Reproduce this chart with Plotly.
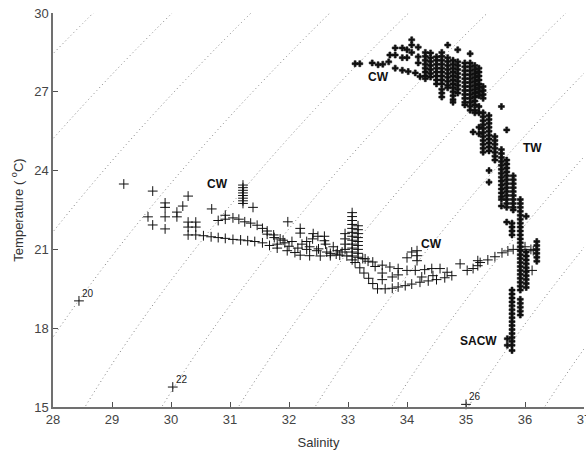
import numpy as np
import plotly.graph_objects as go

# ---------------- data ----------------
# Oceanic stations (bold crosses): columns of points at one salinity
ocean_col_sal = [34.31, 34.40, 34.50, 34.59, 34.69, 34.78, 34.86, 34.98, 35.07, 35.15,
                 35.22, 35.29, 35.39, 35.49, 35.60, 35.69, 35.80, 35.92, 35.78, 36.02, 36.20]
ocean_col_temp = [
    [28.50, 28.35, 28.20, 28.05, 27.90, 27.75, 27.60, 27.50],
    [28.48, 28.30, 28.15, 28.00, 27.85, 27.70, 27.56],
    [28.33, 28.20, 28.05, 27.90, 27.75, 27.60, 27.45, 27.30],
    [28.50, 28.35, 28.20, 28.05, 27.90, 27.75, 27.60, 27.45, 27.30, 27.10, 26.95, 26.80],
    [28.78, 28.30, 28.15, 28.00, 27.85, 27.70, 27.55, 27.40, 27.25, 27.15],
    [28.20, 28.05, 27.90, 27.75, 27.60, 27.45, 27.30, 27.15, 27.00, 26.85, 26.70, 26.60],
    [28.60, 28.14, 28.00, 27.85, 27.70, 27.55, 27.40, 27.25, 27.10, 26.95],
    [28.10, 27.95, 27.80, 27.65, 27.50, 27.35, 27.20, 27.05, 26.90, 26.75, 26.60, 26.50],
    [28.45, 28.10, 27.95, 27.80, 27.65, 27.50, 27.35, 27.20, 27.05, 26.90, 26.75, 26.60, 26.45, 26.30],
    [28.00, 27.85, 27.70, 27.55, 27.40, 27.25, 27.10, 26.95, 26.80, 26.65, 26.50, 26.30, 26.20],
    [27.90, 27.75, 27.60, 27.45, 27.30, 27.15, 27.00, 26.85, 26.44, 26.20, 25.65, 25.40],
    [27.20, 27.05, 26.90, 26.75, 26.20, 26.05, 25.90, 25.75, 25.60, 25.45, 25.30, 25.15, 25.00, 24.85, 24.70],
    [26.10, 25.95, 25.80, 25.65, 25.50, 25.35, 25.20, 25.05, 24.90, 24.75, 24.00, 23.56],
    [25.30, 25.15, 25.00, 24.85, 24.70, 24.55, 24.40],
    [26.44, 24.80, 24.65, 24.50, 24.35, 24.20, 24.05, 23.90, 23.75, 23.60, 23.45, 23.30, 23.15, 23.00, 22.90, 22.65],
    [25.55, 24.40, 24.25, 24.10, 23.95, 23.80, 23.65, 23.50, 23.35, 23.20, 23.05, 22.90, 22.75, 22.60, 22.04],
    [23.80, 23.65, 23.50, 23.35, 23.20, 23.05, 22.90, 22.75, 22.60, 22.50],
    [22.90, 22.75, 22.60, 22.45, 22.30, 22.15, 22.00, 21.85, 21.70, 21.55, 21.40, 21.25, 21.10, 20.95,
     20.80, 20.65, 20.50, 20.35, 20.20, 20.05, 19.90, 19.75, 19.60, 19.45, 19.10, 18.95, 18.80, 18.65, 18.50],
    [22.00, 21.85, 21.70, 21.55, 19.45, 19.30, 19.15, 19.00, 18.85, 18.70, 18.55, 18.40, 18.25, 18.10,
     17.95, 17.80, 17.65, 17.50, 17.35, 17.15],
    [22.26, 20.90, 20.75, 20.60, 20.45, 20.30, 20.15, 20.00, 19.85, 19.70, 19.55],
    [21.30, 21.15, 21.00, 20.85, 20.70, 20.55],
]
# Oceanic stations: single points
ocean_pt_sal = [33.12, 33.20, 33.41, 33.51, 33.59, 33.69, 33.80, 33.92, 34.02, 34.14, 34.22,
                33.71, 33.80, 33.80, 33.92, 33.92, 34.00, 34.00, 34.08, 34.08, 34.08, 34.19, 34.19, 34.19,
                35.12, 35.70, 35.70]
ocean_pt_temp = [28.07, 28.07, 28.10, 28.03, 28.05, 28.14, 27.90, 27.82, 27.77, 27.72, 27.58,
                 28.40, 28.67, 28.40, 28.67, 28.30, 28.60, 28.30, 28.98, 28.78, 28.50, 28.70, 28.33, 28.10,
                 25.47, 17.35, 17.60]

# Coastal stations (thin plus signs)
coast_sal = [
    29.20, 29.69, 29.90, 29.90, 30.29, 30.20, 30.10, 30.10, 29.61, 29.90, 29.69, 29.90, 30.29, 30.42, 30.29, 30.42, 30.69,
    31.22, 31.22, 31.22, 31.22, 31.22, 31.22, 31.22, 31.22, 31.39,
    30.80, 30.92, 30.92, 31.05, 31.15, 31.25, 31.35, 31.46, 31.55, 31.63, 31.74, 31.85, 31.93, 32.00, 32.15, 32.30, 32.47, 32.64, 32.80, 32.98,
    30.29, 30.42, 30.55, 30.68, 30.80, 30.92, 31.05, 31.18, 31.30, 31.42, 31.55, 31.67, 31.80, 31.97, 32.10, 32.19, 32.35, 32.53, 32.70, 32.86,
    31.98, 32.19, 32.19, 32.41, 32.49, 32.60, 31.80, 31.63, 31.75, 31.90, 32.05, 32.22, 32.35, 32.50, 32.62, 32.75, 32.82, 32.60, 32.40, 32.30, 32.70, 32.90,
    33.07, 33.07, 33.07, 33.07, 33.07, 33.07, 33.07, 33.07, 33.07, 33.07, 33.07, 33.07, 33.07,
    33.17, 33.17, 33.17, 33.17, 33.17, 33.17, 33.17, 33.17, 33.17,
    32.95, 32.95, 32.95, 32.95,
    33.12, 33.20, 33.27, 33.35, 33.42,
    33.46, 33.58, 33.58, 33.75, 33.85, 33.34, 33.25,
    33.50, 33.63, 33.75, 33.85, 33.97, 34.08, 34.22, 34.36, 34.50, 34.64, 34.76,
    33.29, 33.42, 33.58, 33.71, 33.85, 34.00, 34.14, 34.30, 34.42, 34.56, 34.68,
    34.25, 34.44,
    34.00, 34.08, 34.17, 34.17, 34.17,
    34.90, 35.02, 35.12, 35.20, 35.20, 35.24, 35.37, 35.49, 35.61, 35.71, 35.80, 35.92, 36.00, 36.10, 36.14, 36.12,
]
coast_temp = [
    23.49, 23.22, 22.77, 22.60, 23.03, 22.65, 22.42, 22.24, 22.24, 22.24, 21.93, 21.78, 22.04, 22.04, 21.85, 21.85, 22.54,
    23.45, 23.35, 23.25, 23.15, 23.05, 22.95, 22.85, 22.75, 22.60,
    22.10, 22.30, 22.15, 22.20, 22.15, 22.05, 22.00, 21.92, 21.80, 21.70, 21.55, 21.40, 21.25, 21.12, 21.05, 21.00, 20.95, 20.90, 20.82, 20.75,
    21.55, 21.55, 21.52, 21.48, 21.45, 21.42, 21.38, 21.36, 21.33, 21.30, 21.25, 21.15, 21.05, 20.95, 20.88, 20.78, 20.76, 20.75, 20.76, 20.78,
    22.05, 21.80, 21.62, 21.60, 21.50, 21.33, 21.20, 21.58, 21.45, 21.35, 21.30, 21.20, 21.10, 21.02, 21.20, 21.10, 20.95, 21.50, 21.40, 21.30, 20.85, 20.90,
    22.40, 22.25, 22.10, 21.95, 21.80, 21.65, 21.50, 21.35, 21.20, 21.05, 20.90, 20.75, 20.60,
    21.90, 21.75, 21.60, 21.45, 21.30, 21.15, 21.00, 20.85, 20.70,
    21.60, 21.40, 21.20, 21.00,
    20.50, 20.30, 20.10, 19.90, 19.70,
    20.35, 20.10, 19.85, 19.95, 20.03, 20.55, 20.65,
    19.50, 19.50, 19.52, 19.57, 19.62, 19.68, 19.75, 19.80, 19.85, 19.92, 20.00,
    20.64, 20.52, 20.40, 20.33, 20.27, 20.20, 20.20, 20.23, 20.27, 20.27, 20.13,
    19.95, 20.00,
    20.68, 20.90, 20.95, 20.76, 20.57,
    20.45, 20.20, 20.27, 20.38, 20.57, 20.50, 20.60, 20.72, 20.87, 20.94, 21.00, 21.00, 21.10, 21.00, 20.95, 20.20,
]

# water-mass labels
label_text = ["CW", "CW", "CW", "TW", "SACW"]
label_sal = [30.78, 33.51, 34.41, 36.12, 35.22]
label_temp = [23.49, 27.57, 21.20, 24.86, 17.50]

# isopycnal labels (sigma-t)
sig_levels = [17, 28]
sig_label_text = ["20", "22", "26"]
sig_label_sal = [28.44, 30.03, 35.00]
sig_label_temp = [19.04, 15.76, 15.10]

x_ticks = [28, 29, 30, 31, 32, 33, 34, 35, 36, 37]
y_ticks = [15, 18, 21, 24, 27, 30]

# ---------------- build ----------------
FONT = "Liberation Sans, Arial, Helvetica, sans-serif"


def sigma_t(S, T):
    rw = (999.842594 + 6.793952e-2 * T - 9.095290e-3 * T**2 + 1.001685e-4 * T**3
          - 1.120083e-6 * T**4 + 6.536332e-9 * T**5)
    A = 8.24493e-1 - 4.0899e-3 * T + 7.6438e-5 * T**2 - 8.2467e-7 * T**3 + 5.3875e-9 * T**4
    B = -5.72466e-3 + 1.0227e-4 * T - 1.6546e-6 * T**2
    C = 4.8314e-4
    return rw + A * S + B * S**1.5 + C * S**2 - 1000.0


gs = np.linspace(27.0, 38.0, 221)
gt = np.linspace(14.0, 31.0, 341)
SS, TT = np.meshgrid(gs, gt)
Z = sigma_t(SS, TT)

ocean_sal = []
ocean_temp = []
for s, temps in zip(ocean_col_sal, ocean_col_temp):
    for t in temps:
        ocean_sal.append(s)
        ocean_temp.append(t)
ocean_sal += ocean_pt_sal
ocean_temp += ocean_pt_temp

fig = go.Figure()
fig.add_trace(go.Contour(
    x=gs, y=gt, z=Z,
    contours=dict(start=sig_levels[0], end=sig_levels[1], size=1, coloring="none"),
    line=dict(color="#808080", width=1, dash="1px,3px"),
    showscale=False, hoverinfo="skip",
))
fig.add_trace(go.Scatter(
    x=coast_sal, y=coast_temp, mode="markers",
    marker=dict(symbol="cross-thin", size=7, line=dict(color="#111", width=1)),
    hoverinfo="skip",
))
fig.add_trace(go.Scatter(
    x=ocean_sal, y=ocean_temp, mode="markers",
    marker=dict(symbol="cross", size=5, color="#111", line=dict(color="#111", width=0.6)),
    hoverinfo="skip",
))
fig.add_trace(go.Scatter(
    x=sig_label_sal, y=sig_label_temp, mode="markers",
    marker=dict(symbol="cross-thin", size=7, line=dict(color="#111", width=1)),
    hoverinfo="skip", cliponaxis=False,
))
for txt, s, t in zip(sig_label_text, sig_label_sal, sig_label_temp):
    fig.add_annotation(x=s, y=t, text=txt, showarrow=False, xanchor="left", yanchor="bottom",
                       xshift=1, yshift=0, font=dict(family=FONT, size=10, color="#222"))
for txt, s, t in zip(label_text, label_sal, label_temp):
    fig.add_annotation(x=s, y=t, text="<b>" + txt + "</b>", showarrow=False,
                       font=dict(family=FONT, size=12, color="#111"))

axis_common = dict(showgrid=False, zeroline=False, showline=True, linecolor="#707070", linewidth=1.5,
                   ticks="inside", ticklen=5, tickwidth=1, tickcolor="#505050",
                   tickfont=dict(family=FONT, size=13, color="#444"), mirror=False,
                   ticklabeloverflow="allow", automargin=False)
fig.update_xaxes(range=[28, 37], tickvals=x_ticks, ticktext=[str(v) for v in x_ticks],
                 title=dict(text="Salinity", font=dict(family=FONT, size=13, color="#333"), standoff=12),
                 **axis_common)
fig.update_yaxes(range=[15, 30], tickvals=y_ticks, ticktext=[str(v) for v in y_ticks],
                 title=dict(text="Temperature ( <sup>o</sup>C)", font=dict(family=FONT, size=13, color="#333"),
                            standoff=8),
                 **axis_common)
fig.update_layout(width=586, height=452, margin=dict(l=53, r=2, t=13, b=45),
                  plot_bgcolor="white", paper_bgcolor="white", showlegend=False)
fig.write_html("out.html")
